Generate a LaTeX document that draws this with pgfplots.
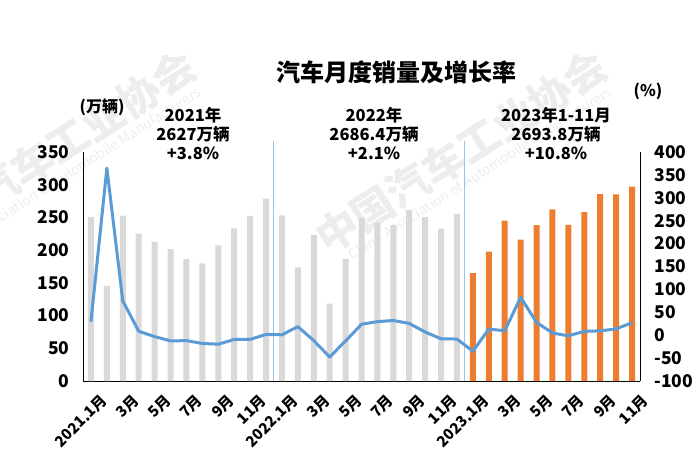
\documentclass[border=0pt]{standalone}
\usepackage{fontspec}
\setmainfont{Noto Sans CJK SC}
\usepackage{pgfplots}
\usepackage{pgfplotstable}
\pgfplotsset{compat=1.18}
\definecolor{barGray}{HTML}{D9D9D9}
\definecolor{barOrange}{HTML}{ED7D31}
\definecolor{lineBlue}{HTML}{5B9BD5}
\definecolor{sepBlue}{HTML}{9DC3E6}
\definecolor{wm}{HTML}{EDEDED}

% monthly sales (10k vehicles), 2021.1 - 2022.12
\pgfplotstableread{
x v
0 250.3
1 145.5
2 252.6
3 225.2
4 212.8
5 201.5
6 186.4
7 179.9
8 207.1
9 233.3
10 252.2
11 278.6
12 253.1
13 173.7
14 223.4
15 118.1
16 186.2
17 250.2
18 242.0
19 238.3
20 261.0
21 250.4
22 232.9
23 255.6
}\salesOld
% 2023.1 - 2023.11
\pgfplotstableread{
x v
24 164.9
25 197.6
26 245.1
27 215.9
28 238.2
29 262.2
30 238.7
31 258.2
32 285.8
33 285.3
34 297.0
}\salesNew
% growth rate (%)
\pgfplotstableread{
x g
0 29.5
1 364.9
2 74.9
3 8.6
4 -3.1
5 -12.4
6 -11.9
7 -18.1
8 -19.6
9 -9.4
10 -9.1
11 1.6
12 0.9
13 18.7
14 -11.7
15 -47.6
16 -12.6
17 23.8
18 29.7
19 32.1
20 25.7
21 6.9
22 -7.9
23 -8.4
24 -35.0
25 13.5
26 9.7
27 82.7
28 27.9
29 4.8
30 -1.4
31 8.4
32 9.5
33 13.8
34 27.4
}\growth

\begin{document}
\begin{tikzpicture}[x=1pt,y=1pt]
\useasboundingbox (0,0) rectangle (700,471);
% watermark
\begin{scope}[text=wm]
\node[rotate=32.5, font=\fontsize{42}{42}\selectfont\bfseries] at (461,319) {中国汽车工业协会};
\node[rotate=32.5, font=\fontsize{14}{14}\selectfont] at (480,298) {China Association of Automobile Manufacturers};
\node[rotate=32.5, font=\fontsize{42}{42}\selectfont\bfseries] at (50,319) {中国汽车工业协会};
\node[rotate=32.5, font=\fontsize{14}{14}\selectfont] at (69,298) {China Association of Automobile Manufacturers};
\end{scope}

\begin{axis}[
  at={(83pt,90pt)}, anchor=south west, scale only axis,
  width=557pt, height=229pt,
  xmin=-0.5, xmax=34.5, ymin=0, ymax=350,
  axis y line*=left, axis x line*=bottom,
  axis line style={black, line width=1pt, -},
  major tick length=0pt,
  ytick={0,50,...,350},
  xtick={0,2,...,34},
  xticklabels={2021.1月,3月,5月,7月,9月,11月,2022.1月,3月,5月,7月,9月,11月,2023.1月,3月,5月,7月,9月,11月},
  x tick label style={rotate=45, anchor=north east, font=\fontsize{15}{15}\selectfont\bfseries, xshift=1pt, yshift=-11pt},
  y tick label style={font=\fontsize{17.5}{18}\selectfont\bfseries, xshift=-10pt},
  /pgf/number format/assume math mode=true,
  clip=false,
]
\addplot[ybar, bar width=6pt, bar shift=0pt, fill=barGray, draw=none] table[x=x,y=v]{\salesOld};
\addplot[ybar, bar width=6pt, bar shift=0pt, fill=barOrange, draw=none] table[x=x,y=v]{\salesNew};
\draw[sepBlue, line width=1pt] (axis cs:11.5,0) -- (axis cs:11.5,367);
\draw[sepBlue, line width=1pt] (axis cs:23.5,0) -- (axis cs:23.5,367);
\end{axis}

\begin{axis}[
  at={(83pt,90pt)}, anchor=south west, scale only axis,
  width=557pt, height=229pt,
  xmin=-0.5, xmax=34.5, ymin=-100, ymax=400,
  axis y line*=right, axis x line=none,
  axis line style={black, line width=1pt, -},
  major tick length=0pt,
  ytick={-100,-50,...,400},
  y tick label style={font=\fontsize{17.5}{18}\selectfont\bfseries, xshift=11pt},
  /pgf/number format/assume math mode=true,
]
\addplot[lineBlue, line width=3pt, line join=round, mark=none] table[x=x,y=g]{\growth};
\end{axis}

\node[font=\fontsize{24}{28}\selectfont\bfseries] at (396.5,399) {汽车月度销量及增长率};
\node[font=\fontsize{16}{18}\selectfont\bfseries] at (102,364) {(万辆)};
\node[font=\fontsize{16}{18}\selectfont\bfseries] at (648,380) {(\%)};
\node[align=center, font=\fontsize{16.5}{19}\selectfont\bfseries] at (193,337) {2021年\\2627万辆\\+3.8\%};
\node[align=center, font=\fontsize{16.5}{19}\selectfont\bfseries] at (374,337) {2022年\\2686.4万辆\\+2.1\%};
\node[align=center, font=\fontsize{16.5}{19}\selectfont\bfseries] at (556,337) {2023年1-11月\\2693.8万辆\\+10.8\%};
\end{tikzpicture}
\end{document}
